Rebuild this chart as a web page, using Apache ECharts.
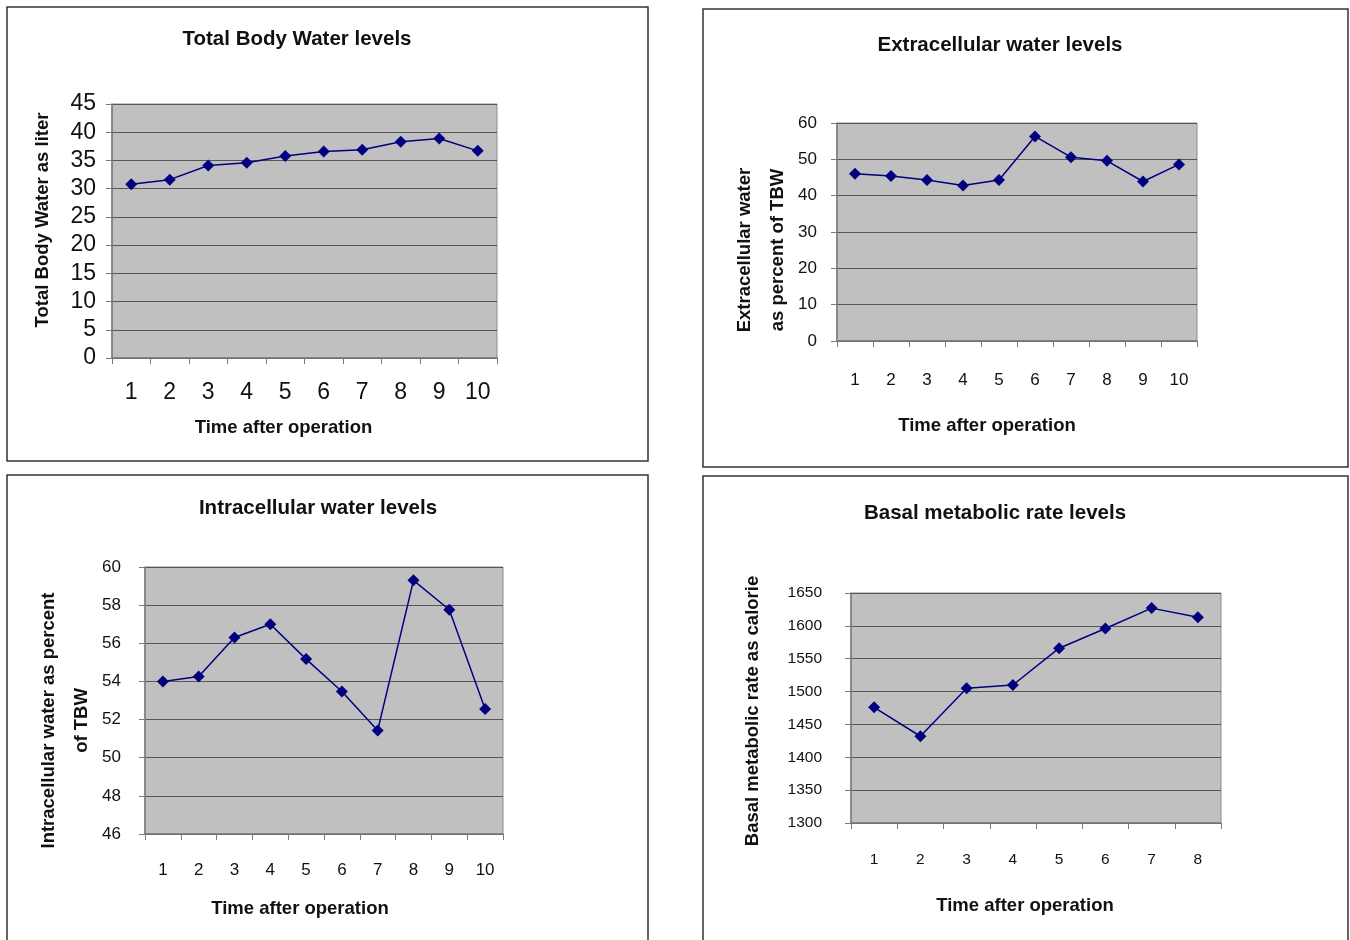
<!DOCTYPE html>
<html>
<head>
<meta charset="utf-8">
<script src="https://cdn.jsdelivr.net/npm/echarts@6/dist/echarts.min.js"></script>
<style>
html,body{margin:0;padding:0;background:#fff;}
#c{width:1350px;height:940px;}
</style>
</head>
<body>
<div id="c"></div>
<script>
// ---- Data ----
const tbwCategories = ['1','2','3','4','5','6','7','8','9','10'];
const tbwValues = [30.8, 31.6, 34.1, 34.6, 35.8, 36.6, 36.9, 38.3, 38.9, 36.7];

const ecwCategories = ['1','2','3','4','5','6','7','8','9','10'];
const ecwValues = [46.0, 45.4, 44.3, 42.8, 44.3, 56.3, 50.6, 49.6, 43.9, 48.6];

const icwCategories = ['1','2','3','4','5','6','7','8','9','10'];
const icwValues = [54.0, 54.26, 56.3, 57.0, 55.17, 53.47, 51.43, 59.3, 57.76, 52.56];

const bmrCategories = ['1','2','3','4','5','6','7','8'];
const bmrValues = [1476, 1432, 1505, 1510, 1566, 1596, 1627, 1613];

const titles = ['Total Body Water levels', 'Extracellular water levels', 'Intracellular water levels', 'Basal metabolic rate levels'];
const yNames = ['Total Body Water as liter', 'Extracellular water\nas percent of TBW', 'Intracellular water as percent\nof TBW', 'Basal metabolic rate as calorie'];
const xName = 'Time after operation';

// ---- Layout / style ----
const FONT = '"Liberation Sans", Arial, sans-serif';
const panels = [
  {grid:{left:112, top:104, width:385, height:254}, y:{min:0,max:45,interval:5}, tick:23, ym:16, xm:23, yGap:53, yPad:[0,0,0,22], xGap:60, xPad:[0,42,0,0], title:{x:292,y:24}},
  {grid:{left:837, top:123, width:360, height:218}, y:{min:0,max:60,interval:10}, tick:17, ym:20, xm:31, yGap:41, yPad:[0,36,0,0], xGap:75, xPad:[0,60,0,0], title:{x:995,y:30}},
  {grid:{left:145, top:567, width:358, height:267}, y:{min:46,max:60,interval:2}, tick:17, ym:24, xm:28, yGap:44, yPad:[0,40,0,0], xGap:65, xPad:[0,48,0,0], title:{x:313,y:493}},
  {grid:{left:851, top:593, width:370, height:230}, y:{min:1300,max:1650,interval:50}, tick:15.5, ym:29, xm:29, yGap:82, yPad:[0,6,0,0], xGap:73, xPad:[0,22,0,0], title:{x:990,y:498}}
];
const cats = [tbwCategories, ecwCategories, icwCategories, bmrCategories];
const vals = [tbwValues, ecwValues, icwValues, bmrValues];

const chart = echarts.init(document.getElementById('c'), null, {renderer:'canvas'});

const option = {
  backgroundColor: '#ffffff',
  animation: false,
  textStyle: {fontFamily: FONT},
  title: panels.map((p,i)=>({
    text: titles[i], left: p.title.x, top: p.title.y, textAlign: 'center',
    textStyle: {fontFamily: FONT, fontSize: 20.5, fontWeight: 'bold', color: '#111'}
  })),
  grid: panels.map(p=>Object.assign({show:true, backgroundColor:'#c0c0c0', borderColor:'#8c8c8c', borderWidth:1}, p.grid)),
  xAxis: panels.map((p,i)=>({
    type:'category', gridIndex:i, data:cats[i], boundaryGap:true,
    name: xName, nameLocation:'middle', nameGap:p.xGap,
    nameTextStyle:{fontFamily:FONT, fontSize:18.5, fontWeight:'bold', color:'#111', padding:p.xPad},
    axisLine:{show:true, lineStyle:{color:'#7a7a7a', width:1.5}},
    axisTick:{show:true, inside:false, length:6, alignWithLabel:false, interval:0, lineStyle:{color:'#7a7a7a'}},
    axisLabel:{interval:0, fontSize:p.tick, color:'#111', margin:p.xm, fontFamily:FONT},
    splitLine:{show:false}
  })),
  yAxis: panels.map((p,i)=>({
    type:'value', gridIndex:i, min:p.y.min, max:p.y.max, interval:p.y.interval,
    name: yNames[i], nameLocation:'middle', nameGap:p.yGap, nameRotate:90,
    nameTextStyle:{fontFamily:FONT, fontSize:18.5, fontWeight:'bold', color:'#111', lineHeight:33, padding:p.yPad},
    axisLine:{show:true, lineStyle:{color:'#7a7a7a', width:1.5}},
    axisTick:{show:true, inside:false, length:6, lineStyle:{color:'#7a7a7a'}},
    axisLabel:{fontSize:p.tick, color:'#111', margin:p.ym, fontFamily:FONT, formatter: v => String(v)},
    splitLine:{show:true, lineStyle:{color:'#555555', width:1}}
  })),
  series: panels.map((p,i)=>({
    type:'line', xAxisIndex:i, yAxisIndex:i, data:vals[i],
    symbol:'diamond', symbolSize:12,
    lineStyle:{color:'#000080', width:1.5},
    itemStyle:{color:'#000080'}
  })),
  graphic: [
    {type:'rect', shape:{x:7,y:7,width:641,height:454}, style:{fill:'none', stroke:'#333', lineWidth:1.5}, z:-1},
    {type:'rect', shape:{x:703,y:9,width:645,height:458}, style:{fill:'none', stroke:'#333', lineWidth:1.5}, z:-1},
    {type:'rect', shape:{x:7,y:475,width:641,height:480}, style:{fill:'none', stroke:'#333', lineWidth:1.5}, z:-1},
    {type:'rect', shape:{x:703,y:476,width:645,height:480}, style:{fill:'none', stroke:'#333', lineWidth:1.5}, z:-1}
  ]
};
chart.setOption(option);
</script>
</body>
</html>
